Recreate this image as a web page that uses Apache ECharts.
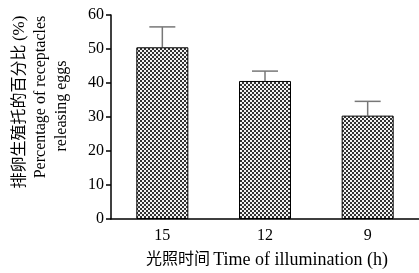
<!DOCTYPE html>
<html>
<head>
<meta charset="utf-8">
<script src="https://cdn.jsdelivr.net/npm/echarts@6/dist/echarts.min.js"></script>
<style>
  html, body { margin: 0; padding: 0; background: #fff; }
  #chart { width: 419px; height: 273px; }
</style>
</head>
<body>
<div id="chart"></div>
<script>
var categories = ['15', '12', '9'];
var means = [50.5, 40.6, 30.4];
var errors = [6.0, 2.9, 4.2];
var yTicks = [0, 10, 20, 30, 40, 50, 60];

var FONT = '"Liberation Serif", "Noto Sans CJK SC", serif';

// small checkerboard used as bar fill
function makePattern() {
    var c = document.createElement('canvas');
    c.width = 4;
    c.height = 4;
    var ctx = c.getContext('2d');
    ctx.fillStyle = '#f4f4f4';
    ctx.fillRect(0, 0, 4, 4);
    ctx.fillStyle = '#333';
    ctx.fillRect(0, 0, 2, 2);
    ctx.fillRect(2, 2, 2, 2);
    return c;
}

var chart = echarts.init(document.getElementById('chart'));

var option = {
    animation: false,
    backgroundColor: '#fff',
    grid: { left: 111, top: 15, width: 309, height: 204 },
    xAxis: {
        type: 'category',
        data: categories,
        axisLine: { lineStyle: { color: '#000', width: 1.5 } },
        axisTick: { alignWithLabel: true, length: 5, lineStyle: { color: '#000', width: 1.5 } },
        axisLabel: { color: '#000', fontSize: 16, fontFamily: FONT, margin: 9 },
        splitLine: { show: false }
    },
    yAxis: {
        type: 'value',
        min: yTicks[0],
        max: yTicks[yTicks.length - 1],
        interval: 10,
        axisLine: { show: true, lineStyle: { color: '#000', width: 1.5 } },
        axisTick: { show: true, length: 5, lineStyle: { color: '#000', width: 1.5 } },
        axisLabel: { color: '#000', fontSize: 16, fontFamily: FONT, margin: 7 },
        splitLine: { show: false }
    },
    series: [{
        type: 'bar',
        data: means,
        barWidth: 52,
        itemStyle: {
            color: { image: makePattern(), repeat: 'repeat' },
            borderColor: '#000',
            borderWidth: 1
        }
    }, {
        type: 'custom',
        data: means.map(function (m, i) { return [i, m, m + errors[i]]; }),
        z: 1,
        renderItem: function (params, api) {
            var lo = api.coord([api.value(0), api.value(1)]);
            var hi = api.coord([api.value(0), api.value(2)]);
            var half = 13;
            var style = { stroke: '#777', lineWidth: 1.5 };
            return {
                type: 'group',
                children: [
                    { type: 'line', shape: { x1: lo[0], y1: lo[1], x2: hi[0], y2: hi[1] }, style: style },
                    { type: 'line', shape: { x1: hi[0] - half, y1: hi[1], x2: hi[0] + half, y2: hi[1] }, style: style }
                ]
            };
        }
    }],
    graphic: [
        {
            type: 'text', x: 20, y: 102, rotation: Math.PI / 2,
            style: {
                text: '{c|排卵生殖托的百分比} {e|(%)}',
                rich: {
                    c: { fontSize: 16, fontFamily: FONT, fill: '#000' },
                    e: { fontSize: 17, fontFamily: FONT, fill: '#000' }
                },
                align: 'center', verticalAlign: 'middle'
            }
        },
        {
            type: 'text', x: 41, y: 97, rotation: Math.PI / 2,
            style: { text: 'Percentage of receptacles', font: '16px ' + FONT, fill: '#000', align: 'center', verticalAlign: 'middle' }
        },
        {
            type: 'text', x: 62, y: 106, rotation: Math.PI / 2,
            style: { text: 'releasing eggs', font: '16px ' + FONT, fill: '#000', align: 'center', verticalAlign: 'middle' }
        },
        {
            type: 'text', x: 267, y: 260,
            style: {
                text: '{c|光照时间} {e|Time of illumination (h)}',
                rich: {
                    c: { fontSize: 16, fontFamily: FONT, fill: '#000' },
                    e: { fontSize: 18, fontFamily: FONT, fill: '#000' }
                },
                align: 'center', verticalAlign: 'middle'
            }
        }
    ]
};

chart.setOption(option);
</script>
</body>
</html>
